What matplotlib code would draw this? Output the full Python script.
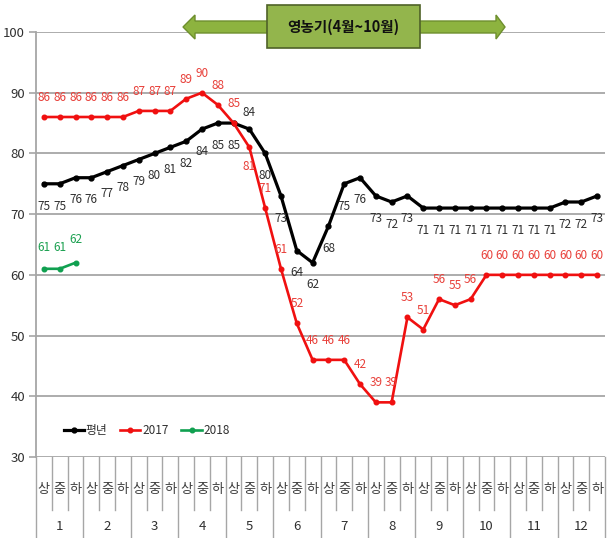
import matplotlib
matplotlib.use("Agg")
import matplotlib.pyplot as plt
from matplotlib.patches import Polygon, Rectangle
from matplotlib.lines import Line2D
import matplotlib.transforms as mtransforms

plt.rcParams['font.family'] = ['Liberation Sans Narrow', 'Noto Sans CJK KR', 'DejaVu Sans']

# ---- data ----
months = ['1', '2', '3', '4', '5', '6', '7', '8', '9', '10', '11', '12']
periods = ['상', '중', '하']
normal = [75, 75, 76, 76, 77, 78, 79, 80, 81, 82, 84, 85, 85, 84, 80, 73, 64, 62,
          68, 75, 76, 73, 72, 73, 71, 71, 71, 71, 71, 71, 71, 71, 71, 72, 72, 73]
y2017 = [86, 86, 86, 86, 86, 86, 87, 87, 87, 89, 90, 88, 85, 81, 71, 61, 52, 46,
         46, 46, 42, 39, 39, 53, 51, 56, 55, 56, 60, 60, 60, 60, 60, 60, 60, 60]
y2018 = [61, 61, 62]
series_names = ['평년', '2017', '2018']
yticks = [30, 40, 50, 60, 70, 80, 90, 100]
banner_text = '영농기(4월~10월)'

W, H = 607, 538
fig = plt.figure(figsize=(W / 100, H / 100), dpi=100)
ax = fig.add_axes([36 / W, 1 - 457 / H, 569 / W, 425 / H])

n = len(normal)
x = list(range(n))
grid_c = '#A6A6A6'

for t in yticks:
    ax.axhline(t, color=grid_c, lw=1.3, zorder=0)

c_black, c_red, c_green = '#000000', '#F01010', '#10A050'
ax.plot(x, normal, color=c_black, lw=2.3, marker='o', ms=3.5, label=series_names[0], zorder=3)
ax.plot(x, y2017, color=c_red, lw=1.9, marker='o', ms=3.3, label=series_names[1], zorder=3)
ax.plot(x[:len(y2018)], y2018, color=c_green, lw=1.9, marker='o', ms=3.3, label=series_names[2], zorder=3)

lab_kw = dict(textcoords='offset points', ha='center', va='center', fontsize=8.5)
for i, v in enumerate(normal):
    dy = 12 if i == 13 else -16
    ax.annotate(f'{v}', (i, v), xytext=(0, dy), color='#303030', **lab_kw)
for i, v in enumerate(y2017):
    dy = -14 if i == 13 else 14
    ax.annotate(f'{v}', (i, v), xytext=(0, dy), color='#E8403A', **lab_kw)
for i, v in enumerate(y2018):
    ax.annotate(f'{v}', (i, v), xytext=(0, 15 if i < 2 else 17), color='#1BA050', **lab_kw)

ax.set_xlim(-0.5, n - 0.5)
ax.set_ylim(30, 100)
ax.set_yticks(yticks)
ax.set_yticklabels([str(t) for t in yticks], fontsize=9.5, color='#303030')
ax.tick_params(axis='y', length=5, color=grid_c, width=1.2, pad=3)
ax.set_xticks([])
for s in ['top', 'right', 'bottom']:
    ax.spines[s].set_visible(False)
ax.spines['left'].set_color(grid_c)
ax.spines['left'].set_linewidth(1.3)

# category table under axis
trans = mtransforms.blended_transform_factory(ax.transData, ax.transAxes)
short_y = -(510 - 457) / 425
long_y = -(538 - 457) / 425
for k in range(n - 1):
    if (k + 1) % 3 != 0:
        ax.add_line(Line2D([k + 0.5, k + 0.5], [0, short_y], transform=trans,
                           color=grid_c, lw=1.0, clip_on=False))
for m in range(len(months) + 1):
    xb = -0.5 + 3 * m
    ax.add_line(Line2D([xb, xb], [0, long_y], transform=trans,
                       color=grid_c, lw=1.0, clip_on=False))
for i in range(n):
    ax.text(i, -(489 - 457) / 425, periods[i % 3], transform=trans, ha='center',
            va='center', fontsize=9.5, color='#404040', family=['Noto Sans CJK KR', 'DejaVu Sans'])
for m, lab in enumerate(months):
    ax.text(3 * m + 1, -(527 - 457) / 425, lab, transform=trans, ha='center',
            va='center', fontsize=9.5, color='#303030')

leg = ax.legend(loc='center left', bbox_to_anchor=(0.03, 0.062), ncol=3, frameon=False,
                handlelength=1.7, handletextpad=0.15, columnspacing=1.1,
                prop={'family': ['Liberation Sans Narrow', 'Noto Sans CJK KR'], 'size': 8.5})
for t in leg.get_texts():
    t.set_color('#303030')

# banner: double arrow and box
def fp(px, py):
    return (px / W, 1 - py / H)

arrow_pts = [(183, 27), (195, 15), (195, 21), (496, 21), (496, 15), (505, 27),
             (496, 39), (496, 33), (195, 33), (195, 39)]
fig.patches.append(Polygon([fp(*p) for p in arrow_pts], closed=True, transform=fig.transFigure,
                           facecolor='#8DB33F', edgecolor='#6E8F2E', lw=1.0, zorder=5))
bx0, by0, bx1, by1 = 267, 5, 420, 48
fig.patches.append(Rectangle(fp(bx0, by1), (bx1 - bx0) / W, (by1 - by0) / H,
                             transform=fig.transFigure, facecolor='#93B54C',
                             edgecolor='#4F6228', lw=1.2, zorder=6))
fig.text((bx0 + bx1) / 2 / W, 1 - 27 / H, banner_text, ha='center', va='center',
         fontsize=10.5, fontweight='bold', color='#111111', zorder=7,
         family=['Noto Sans CJK KR', 'DejaVu Sans'])

fig.savefig('out.png', dpi=100)
